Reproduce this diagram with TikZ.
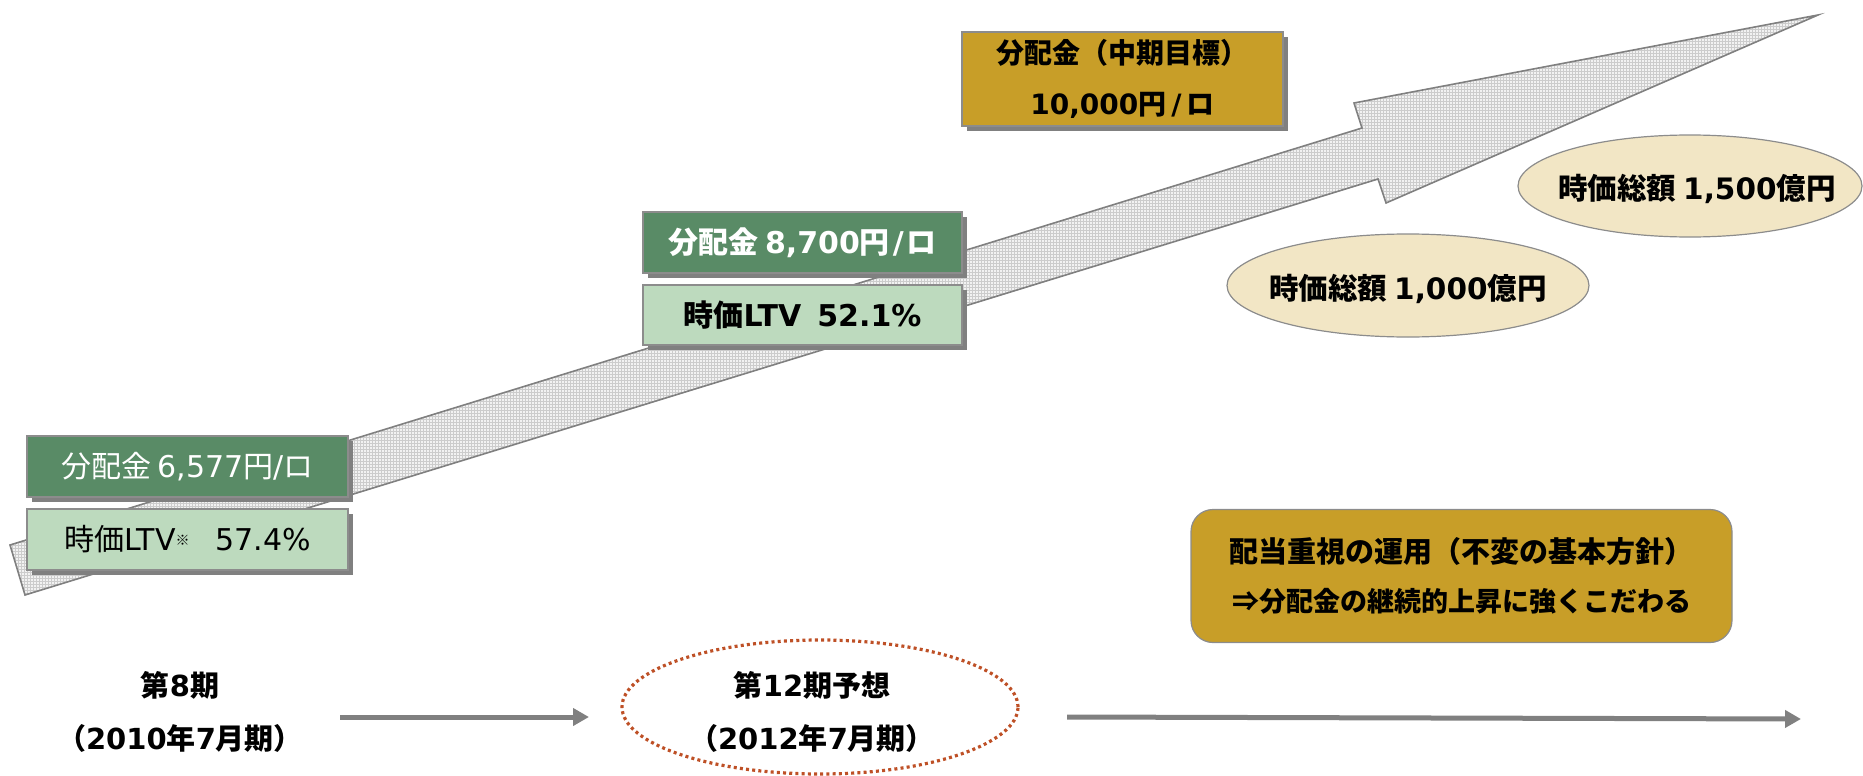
\documentclass[tikz,border=0pt]{standalone}
\usepackage{fontspec}
\setmainfont{Noto Sans CJK JP}
\newfontfamily\latf{DejaVu Sans}
\usetikzlibrary{shadows,patterns,arrows.meta,shapes.geometric}
\definecolor{dgreen}{RGB}{89,139,102}
\definecolor{lgreen}{RGB}{189,218,190}
\definecolor{gold}{RGB}{200,158,40}
\definecolor{beige}{RGB}{242,230,197}
\definecolor{rust}{RGB}{190,80,38}
\definecolor{bordergray}{RGB}{140,140,140}
\definecolor{arrowgray}{RGB}{128,128,128}
\newcommand\LT[1]{{\latf #1}}
\newcommand\LB[1]{{\latf\bfseries #1}}
\tikzset{
  shadowbox/.style={draw=bordergray, line width=1.2pt, inner sep=0pt, align=center,
    general shadow={fill=arrowgray, shadow xshift=5pt, shadow yshift=-5pt}},
  darkbox/.style={shadowbox, fill=dgreen, text=white, minimum width=321pt, minimum height=61pt},
  lightbox/.style={shadowbox, fill=lgreen, text=black, minimum width=321pt, minimum height=61pt},
  goldbox/.style={shadowbox, fill=gold, text=black, font=\fontsize{28}{51}\selectfont\bfseries},
  capell/.style={ellipse, draw=bordergray, line width=1.2pt, fill=beige, inner sep=0pt},
  captext/.style={inner sep=0pt, font=\fontsize{29.5}{32}\selectfont\bfseries},
  policybox/.style={draw=bordergray, line width=1.2pt, fill=gold, rounded corners=22pt, inner sep=0pt, align=center, font=\fontsize{29}{49}\selectfont\bfseries},
  periodlabel/.style={align=center, inner sep=0pt, font=\fontsize{29}{53}\selectfont\bfseries},
  timeline/.style={draw=arrowgray, line width=5pt, -{Triangle[length=16pt,width=17pt]}},
  bigarrow/.style={draw=arrowgray, line width=1.6pt, line join=miter}
}
\begin{document}
\begin{tikzpicture}[x=1pt,y=-1pt,font=\fontsize{30}{32}\selectfont]
\useasboundingbox (0,0) rectangle (1863,776);
% big rising arrow
\coordinate (A) at (10,545);
\coordinate (B) at (1362,128);
\coordinate (C) at (1354,103);
\coordinate (D) at (1818,15);
\coordinate (E) at (1386,203);
\coordinate (F) at (1378,179);
\coordinate (G) at (25,595);
\fill[gray!10] (A) -- (B) -- (C) -- (D) -- (E) -- (F) -- (G) -- cycle;
\fill[pattern=grid, pattern color=gray!40] (A) -- (B) -- (C) -- (D) -- (E) -- (F) -- (G) -- cycle;
\draw[bigarrow] (A) -- (B) -- (C) -- (D) -- (E) -- (F) -- (G) -- cycle;

% boxes
\node[darkbox] (d1) at (187.5,466.5) {分配金 \LT{6,577}円\LT{/}ロ};
\node[lightbox] (l1) at (187.5,539.5) {時価\LT{LTV}\raisebox{0.35ex}{\fontsize{14}{14}\selectfont ※}\hspace{26pt}\LT{57.4\%}};
\node[darkbox, minimum width=319pt, font=\fontsize{30}{32}\selectfont\bfseries] (d2) at (802.5,242.5) {分配金 \LB{8,700}円\hspace{3pt}\LB{/}\hspace{3pt}ロ};
\node[lightbox, minimum width=319pt, minimum height=60pt, font=\fontsize{30}{32}\selectfont\bfseries] (l2) at (802.5,315) {時価\LB{LTV\hspace{16pt}52.1\%}};
\node[goldbox, minimum width=321pt, minimum height=94pt] (g) at (1122.5,79) {分配金（中期目標）\\\LB{10,000}円\hspace{5pt}\LB{/}\hspace{5pt}ロ};

% ellipses
\node[capell, minimum width=362pt, minimum height=103pt] (e1) at (1408,285.5) {};
\node[captext] (e1t) at ([yshift=-3pt]e1.center) {時価総額 \LB{1,000}億円};
\node[capell, minimum width=344pt, minimum height=102pt] (e2) at (1690,186) {};
\node[captext] (e2t) at ([xshift=7pt,yshift=-3pt]e2.center) {時価総額 \LB{1,500}億円};

% policy box
\node[policybox, minimum width=541pt, minimum height=133pt] (p) at (1461.5,576) {配当重視の運用（不変の基本方針）\\{\fontsize{27}{30}\selectfont ⇒分配金の継続的上昇に強くこだわる}};

% period labels
\node[periodlabel] (t1) at (180,712) {第\LB{8}期\\（\LB{2010}年\LB{7}月期）};
\node[draw=rust, line width=3.2pt, dash pattern=on 3pt off 3.2pt, ellipse, minimum width=396pt, minimum height=134pt, inner sep=0pt] (t2e) at (820,707) {};
\node[periodlabel] (t2) at (812,712) {第\LB{12}期予想\\（\LB{2012}年\LB{7}月期）};

% timeline arrows
\coordinate (s1) at (340,717);
\coordinate (f1) at (589,717);
\coordinate (s2) at (1067,717);
\coordinate (f2) at (1801,719);
\draw[timeline] (s1) -- (f1);
\draw[timeline] (s2) -- (f2);
\end{tikzpicture}
\end{document}
